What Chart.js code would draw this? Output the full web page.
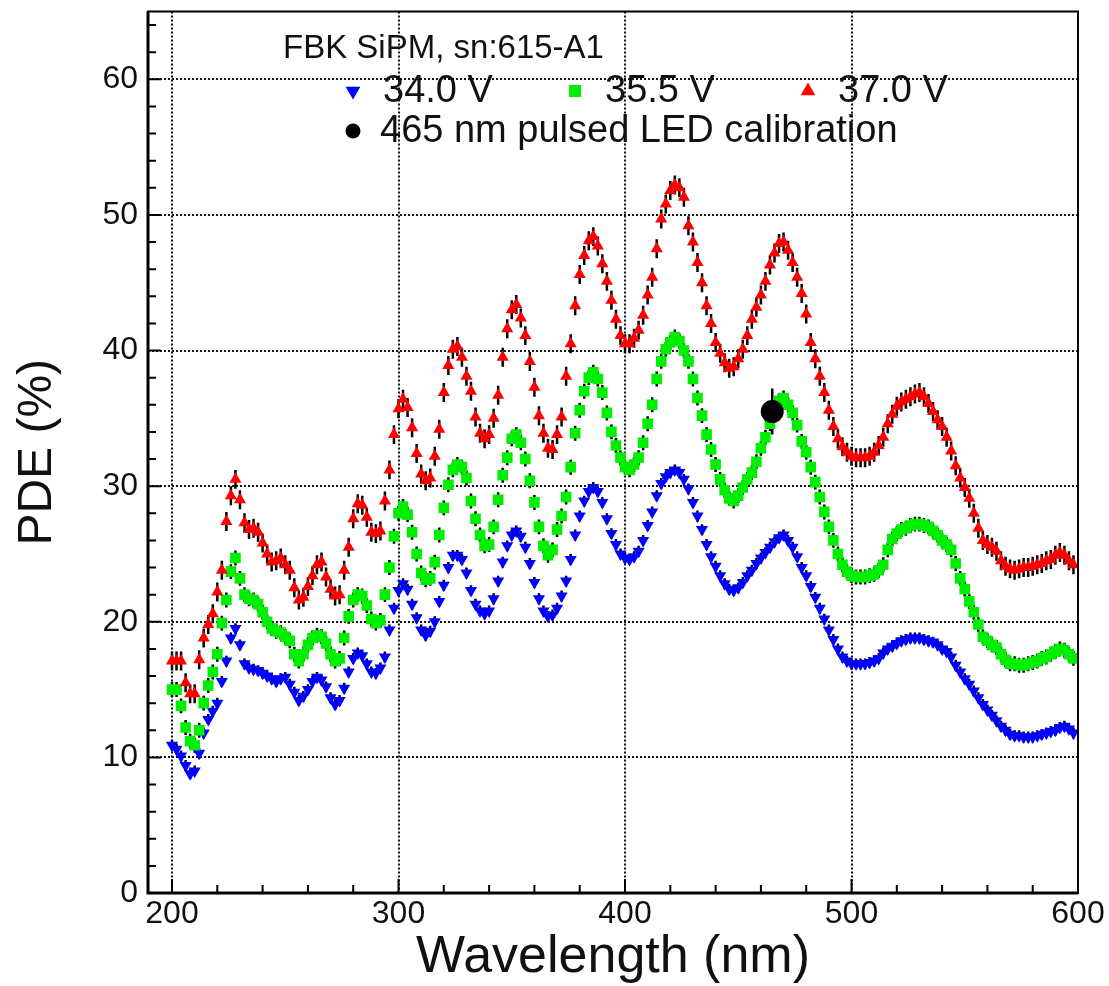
<!DOCTYPE html>
<html>
<head>
<meta charset="utf-8">
<title>FBK SiPM PDE</title>
<script src="https://cdn.jsdelivr.net/npm/chart.js"></script>
<style>
  html, body { margin: 0; padding: 0; background: #fff; }
  #wrap { position: relative; width: 1109px; height: 986px; }
</style>
</head>
<body>
<div id="wrap"><canvas id="pdeChart"></canvas></div>
<script>
// wavelength of each measurement (nm)
const wavelengths = [
  200, 202, 204, 206, 208, 210, 212, 214, 216, 218,
  220, 222, 224, 226, 228, 230, 232, 234, 236, 238,
  240, 242, 244, 246, 248, 250, 252, 254, 256, 258,
  260, 262, 264, 266, 268, 270, 272, 274, 276, 278,
  280, 282, 284, 286, 288, 290, 292, 294, 296, 298,
  300, 302, 304, 306, 308, 310, 312, 314, 316, 318,
  320, 322, 324, 326, 328, 330, 332, 334, 336, 338,
  340, 342, 344, 346, 348, 350, 352, 354, 356, 358,
  360, 362, 364, 366, 368, 370, 372, 374, 376, 378,
  380, 382, 384, 386, 388, 390, 392, 394, 396, 398,
  400, 402, 404, 406, 408, 410, 412, 414, 416, 418,
  420, 422, 424, 426, 428, 430, 432, 434, 436, 438,
  440, 442, 444, 446, 448, 450, 452, 454, 456, 458,
  460, 462, 464, 466, 468, 470, 472, 474, 476, 478,
  480, 482, 484, 486, 488, 490, 492, 494, 496, 498,
  500, 502, 504, 506, 508, 510, 512, 514, 516, 518,
  520, 522, 524, 526, 528, 530, 532, 534, 536, 538,
  540, 542, 544, 546, 548, 550, 552, 554, 556, 558,
  560, 562, 564, 566, 568, 570, 572, 574, 576, 578,
  580, 582, 584, 586, 588, 590, 592, 594, 596, 598
];

// PDE (%) at 34.0 V
const pde34 = [
  10.9, 10.6, 10.1, 9.4, 8.8, 9.0, 10.3, 11.8, 12.8, 13.4,
  14.0, 15.6, 17.1, 18.8, 19.5, 18.3, 16.9, 16.6, 16.5, 16.4,
  16.2, 16.0, 15.8, 15.6, 15.8, 15.9, 15.4, 14.8, 14.2, 14.5,
  15.0, 15.6, 15.9, 15.7, 15.2, 14.4, 13.9, 14.2, 15.1, 16.3,
  17.3, 17.7, 17.5, 16.9, 16.3, 16.2, 16.6, 17.4, 19.4, 21.0,
  22.3, 22.8, 22.4, 21.3, 20.3, 19.4, 19.0, 19.3, 20.0, 21.5,
  22.7, 24.0, 24.9, 24.9, 24.6, 23.6, 22.3, 21.3, 20.8, 20.6,
  20.8, 21.7, 23.0, 24.4, 25.6, 26.4, 26.7, 26.3, 25.5, 24.3,
  22.9, 21.7, 20.8, 20.4, 20.5, 21.0, 21.9, 23.0, 24.6, 26.4,
  27.8, 28.9, 29.6, 29.9, 29.6, 28.8, 27.6, 26.5, 25.7, 25.0,
  24.7, 24.6, 24.8, 25.2, 26.0, 27.1, 28.1, 29.3, 30.2, 30.7,
  31.0, 31.2, 31.0, 30.5, 29.8, 28.8, 27.8, 26.8, 25.7, 24.8,
  24.1, 23.4, 22.8, 22.4, 22.3, 22.5, 22.9, 23.4, 23.8, 24.3,
  24.7, 25.1, 25.5, 25.9, 26.2, 26.4, 26.0, 25.5, 24.8, 24.0,
  23.4, 22.6, 21.8, 21.0, 20.2, 19.4, 18.7, 18.0, 17.4, 17.1,
  16.9, 16.9, 16.9, 16.9, 17.0, 17.1, 17.3, 17.7, 18.0, 18.2,
  18.4, 18.6, 18.7, 18.8, 18.8, 18.8, 18.7, 18.6, 18.5, 18.3,
  18.0, 17.8, 17.4, 16.8, 16.3, 15.8, 15.4, 14.9, 14.4, 13.9,
  13.5, 13.1, 12.7, 12.3, 12.0, 11.7, 11.6, 11.6, 11.5, 11.5,
  11.5, 11.6, 11.7, 11.8, 11.9, 12.0, 12.2, 12.3, 12.1, 11.8
];

// PDE (%) at 35.5 V
const pde355 = [
  15.0, 15.0, 13.8, 12.2, 11.2, 10.9, 12.0, 14.0, 15.3, 16.3,
  17.6, 19.9, 21.6, 23.7, 24.7, 23.2, 22.0, 21.7, 21.6, 21.3,
  20.7, 20.0, 19.5, 19.3, 19.2, 18.9, 18.6, 17.6, 17.1, 17.6,
  18.3, 18.8, 19.0, 18.9, 18.4, 17.6, 17.1, 17.3, 18.8, 20.4,
  21.6, 22.0, 21.9, 21.2, 20.2, 19.9, 20.1, 22.0, 24.0, 26.3,
  28.0, 28.5, 27.9, 26.6, 25.0, 23.6, 23.1, 23.2, 24.4, 26.4,
  28.4, 30.1, 31.2, 31.6, 31.4, 30.6, 28.9, 27.6, 26.4, 25.6,
  25.7, 27.0, 29.0, 30.8, 32.1, 33.5, 33.8, 33.2, 32.0, 30.4,
  28.8, 27.0, 25.6, 24.9, 25.3, 26.8, 27.8, 29.2, 31.4, 33.9,
  35.6, 37.0, 38.0, 38.4, 37.9, 36.9, 35.4, 34.0, 33.0, 32.1,
  31.4, 31.2, 31.6, 32.1, 33.2, 34.6, 36.0, 37.9, 39.2, 40.1,
  40.6, 41.0, 40.7, 40.0, 39.2, 37.9, 36.5, 35.2, 33.8, 32.7,
  31.6, 30.5, 29.7, 29.1, 28.9, 29.3, 29.9, 30.5, 31.0, 31.8,
  32.8, 33.6, 34.6, 35.6, 36.3, 36.5, 36.0, 35.4, 34.5, 33.3,
  32.5, 31.4, 30.3, 29.2, 28.1, 27.0, 26.0, 25.0, 24.2, 23.7,
  23.4, 23.3, 23.3, 23.3, 23.4, 23.5, 23.8, 24.2, 25.3, 26.1,
  26.5, 26.8, 26.9, 27.1, 27.2, 27.2, 27.1, 27.0, 26.7, 26.4,
  26.0, 25.7, 25.3, 24.3, 23.2, 22.4, 21.5, 20.7, 19.8, 18.9,
  18.6, 18.3, 18.1, 17.6, 17.2, 16.9, 16.9, 16.8, 16.8, 16.9,
  17.0, 17.1, 17.3, 17.4, 17.6, 17.8, 18.0, 17.9, 17.6, 17.3
];

// PDE (%) at 37.0 V
const pde37 = [
  17.1, 17.1, 17.1, 15.5, 14.7, 14.7, 17.2, 18.8, 19.8, 20.6,
  22.2, 23.8, 27.4, 29.3, 30.5, 29.0, 27.3, 26.8, 26.9, 26.6,
  25.8, 25.0, 24.4, 24.5, 24.7, 24.2, 23.8, 22.5, 21.6, 21.8,
  22.6, 23.4, 24.2, 24.4, 23.3, 22.4, 21.9, 22.0, 23.8, 25.5,
  27.6, 28.7, 28.6, 27.7, 26.6, 26.5, 26.7, 28.9, 31.2, 33.8,
  35.7, 36.4, 35.8, 34.3, 32.4, 30.9, 30.4, 30.6, 32.2, 34.2,
  36.9, 38.9, 40.1, 40.3, 39.5, 38.1, 37.0, 35.1, 33.9, 33.5,
  33.8, 35.0, 36.7, 39.5, 41.6, 43.0, 43.4, 42.4, 41.1, 39.2,
  37.3, 35.2, 33.9, 32.8, 32.7, 33.8, 35.1, 38.1, 40.5, 43.3,
  45.6, 47.0, 48.1, 48.4, 47.7, 46.4, 45.1, 43.7, 42.3, 41.1,
  40.5, 40.5, 40.9, 41.5, 42.6, 44.1, 45.4, 47.5, 49.7, 50.8,
  51.8, 52.2, 52.0, 51.3, 49.2, 48.0, 46.5, 45.0, 43.3, 42.0,
  40.6, 39.8, 39.1, 38.7, 38.8, 39.4, 40.1, 41.1, 42.3, 43.2,
  44.1, 45.1, 46.3, 47.2, 47.9, 48.0, 47.4, 46.5, 45.4, 44.2,
  42.7, 40.6, 39.4, 38.1, 36.9, 35.6, 34.4, 33.5, 32.9, 32.5,
  32.2, 32.1, 32.1, 32.1, 32.2, 32.5, 33.0, 33.6, 34.6, 35.3,
  35.9, 36.2, 36.4, 36.6, 36.8, 36.9, 36.6, 36.1, 35.5, 34.9,
  34.4, 33.6, 32.6, 31.5, 30.6, 29.9, 29.1, 28.0, 26.9, 26.0,
  25.7, 25.5, 25.2, 24.5, 24.1, 23.9, 23.8, 23.9, 24.0, 24.0,
  24.1, 24.2, 24.3, 24.5, 24.6, 24.9, 25.1, 24.9, 24.5, 24.2
];

// 465 nm pulsed LED calibration point
const ledWavelength = [465];
const ledPde = [35.5];
const ledErr = 1.7;

// statistical errors (PDE %)
const err34 = 0.4;
const err355 = 0.55;
const err37 = 0.7;

const xTicks = [200, 300, 400, 500, 600];
const yTicks = [0, 10, 20, 30, 40, 50, 60];
const xMinorStep = 20;
const yMinorStep = 2;

const legendTitle = "FBK SiPM, sn:615-A1";

const FONT = '"Liberation Sans", Arial, Helvetica, sans-serif';
Chart.defaults.font.family = FONT;
Chart.defaults.color = "#111";

function toPoints(xs, ys) {
  return ys.map((v, i) => ({ x: xs[i], y: v }));
}

// vertical error bars, drawn under the markers
const errorBarPlugin = {
  id: "errorBars",
  beforeDatasetsDraw(chart) {
    const ctx = chart.ctx;
    const a = chart.chartArea;
    const yScale = chart.scales.y;
    ctx.save();
    ctx.beginPath();
    ctx.rect(a.left, a.top, a.right - a.left, a.bottom - a.top);
    ctx.clip();
    ctx.strokeStyle = "#000";
    ctx.lineWidth = 2.5;
    chart.data.datasets.forEach((ds, i) => {
      if (!ds.errorBar) return;
      const meta = chart.getDatasetMeta(i);
      meta.data.forEach((pt, j) => {
        const v = ds.data[j].y;
        ctx.beginPath();
        ctx.moveTo(pt.x, yScale.getPixelForValue(v + ds.errorBar));
        ctx.lineTo(pt.x, yScale.getPixelForValue(v - ds.errorBar));
        ctx.stroke();
      });
    });
    ctx.restore();
  }
};

// frame and inward tick marks
const framePlugin = {
  id: "rootFrame",
  afterDatasetsDraw(chart) {
    const ctx = chart.ctx;
    const a = chart.chartArea;
    const x = chart.scales.x;
    const y = chart.scales.y;
    ctx.save();
    ctx.strokeStyle = "#000";
    ctx.lineWidth = 2;
    ctx.strokeRect(a.left, a.top, a.right - a.left, a.bottom - a.top);
    ctx.lineWidth = 3;
    ctx.beginPath();
    ctx.moveTo(a.left, a.top);
    ctx.lineTo(a.left, a.bottom);
    ctx.lineTo(a.right, a.bottom);
    ctx.stroke();

    ctx.lineWidth = 2;
    ctx.beginPath();
    for (let v = xTicks[0]; v < x.max; v += xMinorStep) {
      const px = x.getPixelForValue(v);
      const len = xTicks.includes(v) ? 14 : 8;
      ctx.moveTo(px, a.bottom);
      ctx.lineTo(px, a.bottom - len);
    }
    for (let v = yTicks[0]; v < y.max; v += yMinorStep) {
      const py = y.getPixelForValue(v);
      const len = yTicks.includes(v) ? 13 : 8;
      ctx.moveTo(a.left, py);
      ctx.lineTo(a.left + len, py);
    }
    ctx.stroke();
    ctx.restore();
  }
};

// legend box in the ROOT style: header, three voltages, one calibration row
const legendPlugin = {
  id: "rootLegend",
  afterDraw(chart) {
    const ctx = chart.ctx;
    const ds = chart.data.datasets;
    const mark = (d, px, py, r) => {
      ctx.fillStyle = d.backgroundColor;
      const opts = { pointStyle: d.pointStyle, rotation: d.rotation || 0, radius: r, borderWidth: 0 };
      Chart.helpers.drawPoint(ctx, opts, px, py);
    };
    ctx.save();
    ctx.textBaseline = "middle";
    ctx.textAlign = "left";
    ctx.fillStyle = "#111";
    ctx.font = "33px " + FONT;
    ctx.fillText(legendTitle, 283, 49);

    const rows = [
      { d: ds[3], mx: 353, tx: 383, y: 91 },
      { d: ds[2], mx: 575, tx: 605, y: 91 },
      { d: ds[1], mx: 808, tx: 838, y: 91 },
      { d: ds[0], mx: 353, tx: 380, y: 131 }
    ];
    rows.forEach(r => {
      mark(r.d, r.mx, r.y, r.d.pointStyle === "circle" ? 7.5 : 8.5);
      ctx.fillStyle = "#111";
      ctx.font = "38px " + FONT;
      ctx.fillText(r.d.label, r.tx, r.y + 1);
    });
    ctx.restore();
  }
};

const ctx = document.getElementById("pdeChart").getContext("2d");
new Chart(ctx, {
  type: "scatter",
  data: {
    datasets: [
      {
        label: "465 nm pulsed LED calibration",
        data: toPoints(ledWavelength, ledPde),
        pointStyle: "circle",
        pointRadius: 11.5,
        backgroundColor: "#000000",
        borderWidth: 0,
        errorBar: ledErr
      },
      {
        label: "37.0 V",
        data: toPoints(wavelengths, pde37),
        pointStyle: "triangle",
        pointRadius: 7,
        backgroundColor: "#ff0000",
        borderWidth: 0,
        errorBar: err37
      },
      {
        label: "35.5 V",
        data: toPoints(wavelengths, pde355),
        pointStyle: "rect",
        pointRadius: 7.5,
        backgroundColor: "#00ee00",
        borderWidth: 0,
        errorBar: err355
      },
      {
        label: "34.0 V",
        data: toPoints(wavelengths, pde34),
        pointStyle: "triangle",
        rotation: 180,
        pointRotation: 180,
        pointRadius: 7,
        backgroundColor: "#0000ff",
        borderWidth: 0,
        errorBar: err34
      }
    ]
  },
  options: {
    responsive: true,
    maintainAspectRatio: false,
    animation: false,
    layout: { padding: { top: 10, right: 31, left: 0, bottom: 0 } },
    plugins: {
      legend: { display: false },
      tooltip: { enabled: false }
    },
    scales: {
      x: {
        type: "linear",
        min: 189.4,
        max: 600,
        afterBuildTicks: s => { s.ticks = xTicks.map(v => ({ value: v })); },
        afterFit: s => { s.height = 93; s.paddingLeft = 0; s.paddingRight = 0; },
        grid: { color: "#111", lineWidth: 2, drawTicks: false },
        border: { display: false, dash: [2, 2] },
        ticks: { font: { size: 32 }, padding: 2, maxRotation: 0, color: "#111" },
        title: {
          display: true,
          text: "Wavelength (nm)",
          font: { size: 52, lineHeight: 1 },
          padding: { top: 0, bottom: 2 },
          color: "#111"
        }
      },
      y: {
        min: 0,
        max: 65,
        afterBuildTicks: s => { s.ticks = yTicks.map(v => ({ value: v })); },
        afterFit: s => { s.width = 148; s.paddingTop = 0; s.paddingBottom = 0; },
        grid: { color: "#111", lineWidth: 2, drawTicks: false },
        border: { display: false, dash: [2, 2] },
        ticks: { font: { size: 32 }, padding: 10, color: "#111" },
        title: {
          display: true,
          text: "PDE (%)",
          font: { size: 48, lineHeight: 1 },
          padding: { top: 14, bottom: 0 },
          color: "#111"
        }
      }
    }
  },
  plugins: [errorBarPlugin, framePlugin, legendPlugin]
});
</script>
</body>
</html>
